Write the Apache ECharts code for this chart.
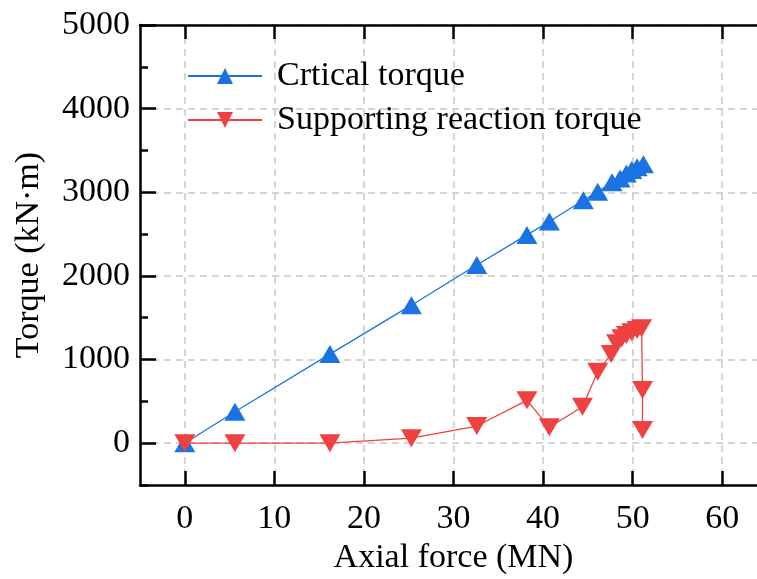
<!DOCTYPE html>
<html>
<head>
<meta charset="utf-8">
<script src="https://cdn.jsdelivr.net/npm/echarts@6/dist/echarts.min.js"></script>
<style>html,body{margin:0;padding:0;background:#fff}#c{width:757px;height:579px}</style>
</head>
<body>
<div id="c"></div>
<script>
// Critical torque series
var critX = [0, 5.6, 16.2, 25.3, 32.6, 38.2, 40.7, 44.5, 46.1, 47.7, 48.6, 49.3, 49.9, 50.5, 51.2];
var critY = [0, 375, 1065, 1650, 2130, 2490, 2650, 2905, 3005, 3120, 3165, 3225, 3265, 3300, 3335];
// Supporting reaction torque series
var suppX = [0, 5.6, 16.2, 25.3, 32.6, 38.2, 40.7, 44.4, 46.1, 47.6, 48.2, 48.8, 49.3, 49.9, 50.5, 51.0, 51.1, 51.1];
var suppY = [0, 0, 0, 60, 205, 512, 190, 436, 855, 1066, 1194, 1254, 1294, 1326, 1353, 1374, 636, 158];
// Tick labels
var xTicks = [0, 10, 20, 30, 40, 50, 60];
var yTicks = [0, 1000, 2000, 3000, 4000, 5000];
var yMinorTicks = [-500, 0, 500, 1000, 1500, 2000, 2500, 3000, 3500, 4000, 4500, 5000];
var seriesNames = ['Crtical torque', 'Supporting reaction torque'];

function pairs(xs, ys) { return xs.map(function (x, i) { return [x, ys[i]]; }); }
function plain(v) { return String(v); }

var FONT = 'Liberation Serif';
var FS = 34;
var chart = echarts.init(document.getElementById('c'));
var gridStyle = { show: true, lineStyle: { color: '#c8c8c8', width: 1.5, type: [7, 5] } };
chart.setOption({
  animation: false,
  textStyle: { fontFamily: FONT },
  grid: { left: 140, width: 627, top: 25, height: 460, containLabel: false, outerBoundsMode: 'none' },
  legend: {
    left: 187, top: 57, orient: 'vertical', padding: 0, itemGap: 6,
    itemWidth: 74, itemHeight: 20,
    textStyle: { fontFamily: FONT, fontSize: FS, color: '#000', padding: [0, 0, 0, 10], lineHeight: 38 },
    data: seriesNames
  },
  xAxis: [{
    type: 'value', min: -5, max: 65, interval: 5, position: 'bottom',
    name: 'Axial force (MN)', nameLocation: 'middle', nameGap: 55,
    nameTextStyle: { fontFamily: FONT, fontSize: FS, color: '#000' },
    axisLine: { show: true, onZero: false, lineStyle: { color: '#000', width: 2.5 } },
    axisTick: { show: true, inside: true, length: 14, lineStyle: { color: '#000', width: 2.5 }, customValues: xTicks },
    axisLabel: { fontFamily: FONT, fontSize: FS, color: '#000', margin: 17, customValues: xTicks, formatter: plain },
    splitLine: gridStyle
  }, {
    type: 'value', min: -5, max: 65, interval: 5, position: 'top',
    axisLine: { show: true, onZero: false, lineStyle: { color: '#000', width: 2.5 } },
    axisTick: { show: true, inside: true, length: 14, lineStyle: { color: '#000', width: 2.5 }, customValues: xTicks },
    axisLabel: { show: false },
    splitLine: { show: false }
  }],
  yAxis: [{
    type: 'value', min: -500, max: 5000, interval: 500, position: 'left',
    name: 'Torque (kN·m)', nameLocation: 'middle', nameGap: 94,
    nameTextStyle: { fontFamily: FONT, fontSize: FS, color: '#000' },
    axisLine: { show: true, onZero: false, lineStyle: { color: '#000', width: 2.5 } },
    axisTick: { show: true, inside: true, length: 16, lineStyle: { color: '#000', width: 2.5 }, customValues: yTicks },
    axisLabel: { fontFamily: FONT, fontSize: FS, color: '#000', margin: 10, customValues: yTicks, formatter: plain },
    splitLine: gridStyle
  }, {
    type: 'value', min: -500, max: 5000, interval: 500, position: 'left',
    axisLine: { show: false, onZero: false },
    axisTick: { show: true, inside: true, length: 8, lineStyle: { color: '#000', width: 2.5 }, customValues: yMinorTicks },
    axisLabel: { show: false },
    splitLine: { show: false }
  }],
  series: [{
    name: seriesNames[0], type: 'line', xAxisIndex: 0, yAxisIndex: 0,
    data: pairs(critX, critY),
    symbol: 'triangle', symbolSize: [21, 18],
    lineStyle: { color: '#1a73e3', width: 1.3 },
    itemStyle: { color: '#1a73e3' }
  }, {
    name: seriesNames[1], type: 'line', xAxisIndex: 0, yAxisIndex: 0,
    data: pairs(suppX, suppY),
    symbol: 'triangle', symbolRotate: 180, symbolSize: [21, 18],
    lineStyle: { color: '#f04141', width: 1.3 },
    itemStyle: { color: '#f04141' }
  }]
});
</script>
</body>
</html>
